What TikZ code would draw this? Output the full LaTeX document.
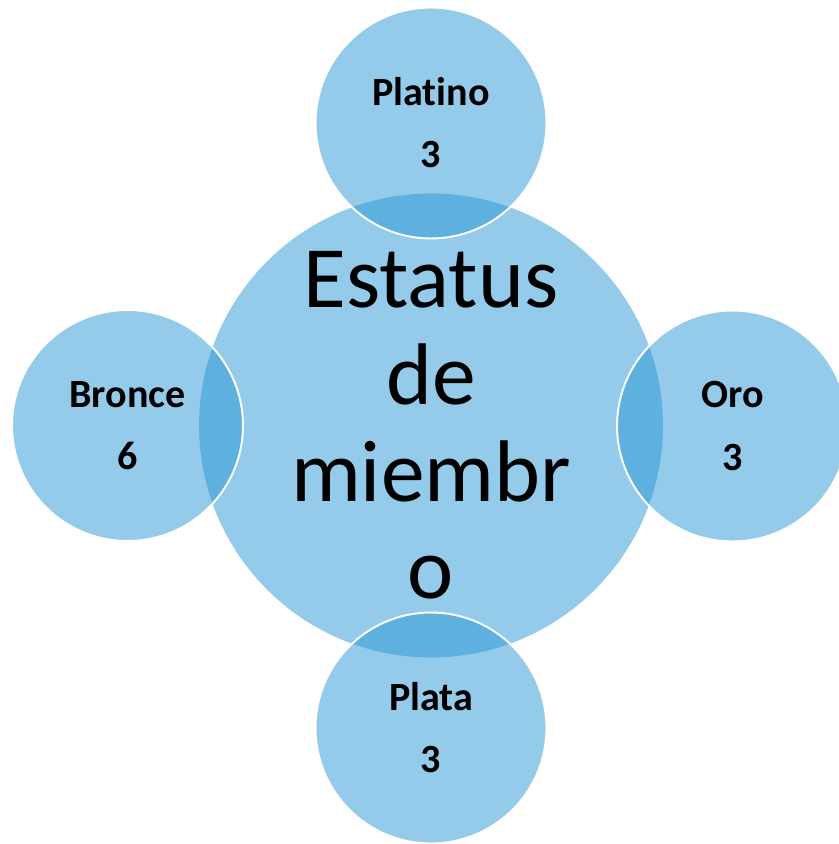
\documentclass[tikz,border=0pt]{standalone}
\usepackage{fontspec}
\setmainfont{Carlito}[Ligatures=NoCommon]
\usepackage{tikz}

\definecolor{hubblue}{RGB}{148,203,234}
\definecolor{ringblue}{RGB}{41,151,213}

\begin{document}
\begin{tikzpicture}[x=0.02cm,y=-0.02cm,
	hub/.style={shape=circle,fill=hubblue,inner sep=0pt,minimum size=9.28cm,align=center,
		font=\fontsize{49.8}{55.2}\selectfont},
	satellite/.style={shape=circle,fill=ringblue,fill opacity=0.5,text opacity=1,draw=white,
		line width=1.1pt,inner sep=0pt,minimum size=4.62cm,align=center,
		font=\fontsize{22.8}{35.3}\selectfont\bfseries}]
	\useasboundingbox (0,0) rectangle (838,844);
	
	\node[hub] (hub) at (431,425.5) {Estatus\\de\\miembr\\o};
	
	\node[satellite] (platino) at (431,123) {Platino\\3};
	\node[satellite] (oro) at (732.5,426) {Oro\\3};
	\node[satellite] (plata) at (431,728) {Plata\\3};
	\node[satellite] (bronce) at (127.5,425.5) {Bronce\\6};
\end{tikzpicture}
\end{document}
